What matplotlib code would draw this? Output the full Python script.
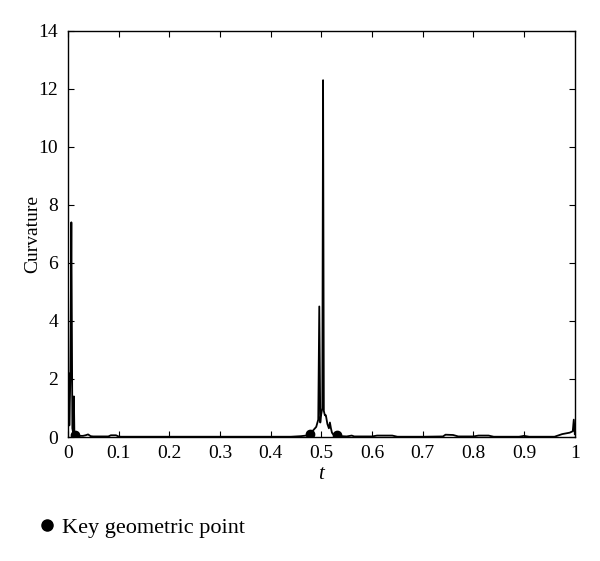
import matplotlib
matplotlib.use("Agg")
import matplotlib.pyplot as plt
from matplotlib.lines import Line2D

plt.rcParams['font.family'] = ['Liberation Serif', 'DejaVu Serif']

t = [0.0, 0.002, 0.003, 0.005, 0.007, 0.009, 0.010, 0.012, 0.013, 0.015, 0.02, 0.03,
     0.035, 0.04, 0.045, 0.05, 0.08, 0.085, 0.095, 0.1, 0.105, 0.2, 0.3, 0.4, 0.44,
     0.46, 0.47, 0.478, 0.485, 0.49, 0.494, 0.496, 0.498, 0.499, 0.500, 0.502,
     0.5035, 0.505, 0.507, 0.509, 0.512, 0.515, 0.517, 0.519, 0.521, 0.523, 0.527,
     0.53, 0.54, 0.55, 0.56, 0.565, 0.6, 0.61, 0.64, 0.65, 0.7, 0.74, 0.745, 0.76,
     0.77, 0.8, 0.81, 0.83, 0.84, 0.89, 0.9, 0.91, 0.96, 0.975, 0.99, 0.996, 0.998, 1.0]
k = [0.9, 2.2, 0.4, 2.0, 7.4, 0.3, 0.2, 1.4, 0.1, 0.06, 0.04, 0.04,
     0.06, 0.09, 0.03, 0.02, 0.02, 0.06, 0.06, 0.02, 0.01, 0.01, 0.01, 0.01, 0.01,
     0.03, 0.05, 0.12, 0.25, 0.35, 0.6, 4.5, 0.5, 0.7, 0.8, 1.0,
     12.3, 0.9, 0.75, 0.75, 0.45, 0.3, 0.5, 0.3, 0.15, 0.1, 0.06,
     0.05, 0.03, 0.02, 0.05, 0.02, 0.02, 0.05, 0.05, 0.01, 0.01, 0.02, 0.08, 0.07,
     0.02, 0.02, 0.05, 0.05, 0.01, 0.01, 0.04, 0.01, 0.01, 0.1, 0.15, 0.2, 0.6, 0.1]

key_t = [0.015, 0.478, 0.530]
key_k = [0.08, 0.12, 0.08]

xticks = [0, 0.1, 0.2, 0.3, 0.4, 0.5, 0.6, 0.7, 0.8, 0.9, 1]
xticklabels = ['0', '0.1', '0.2', '0.3', '0.4', '0.5', '0.6', '0.7', '0.8', '0.9', '1']
yticks = [0, 2, 4, 6, 8, 10, 12, 14]

fig = plt.figure(figsize=(6.0, 5.61), dpi=100)
ax = fig.add_axes([0.113, 0.221, 0.845, 0.724])
ax.plot(t, k, color='black', lw=1.3)
ax.plot(key_t, key_k, 'o', color='black', ms=6, zorder=5)

ax.set_xlim(0, 1)
ax.set_ylim(0, 14)
ax.set_xticks(xticks)
ax.set_xticklabels(xticklabels)
ax.set_yticks(yticks)
ax.tick_params(direction='in', top=True, right=True, labelsize=14, length=4, width=0.8)
ax.tick_params(axis='x', pad=6)
ax.tick_params(axis='y', pad=7)
for s in ax.spines.values():
    s.set_linewidth(1.0)
ax.set_xlabel('t', fontsize=15, style='italic', labelpad=2)
ax.set_ylabel('Curvature', fontsize=14, labelpad=-2)

handle = Line2D([], [], marker='o', color='black', ls='none', ms=8)
fig.legend([handle], ['Key geometric point'], loc='center left',
           bbox_to_anchor=(0.022, 0.059), frameon=False, fontsize=16,
           handletextpad=0.1, handlelength=1.2)

fig.savefig('out.png', dpi=100)
